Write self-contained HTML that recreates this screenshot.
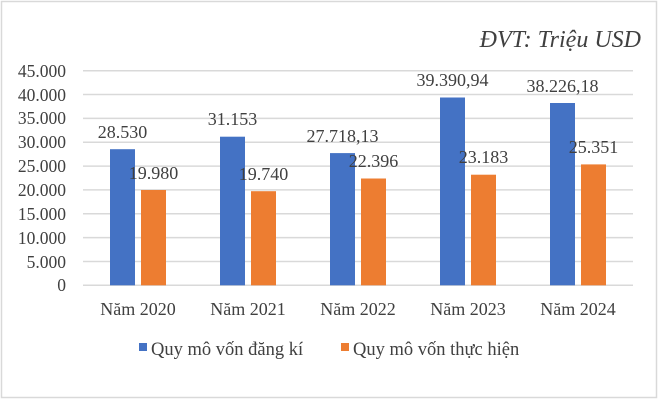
<!DOCTYPE html>
<html><head><meta charset="utf-8"><style>
html,body{margin:0;padding:0;background:#fff}
svg{display:block}
text{font-family:"Liberation Serif",serif;fill:#404040}
</style></head><body>
<svg width="658" height="400" viewBox="0 0 658 400">
<rect x="1.5" y="1.5" width="655" height="396" fill="#fff" stroke="#d9d9d9" stroke-width="1.5"/>
<text x="641" y="47" font-size="24" font-style="italic" text-anchor="end">ĐVT: Triệu USD</text>
<g stroke="#d9d9d9" stroke-width="1.5">
<line x1="83" x2="633" y1="70.7" y2="70.7"/>
<line x1="83" x2="633" y1="94.5" y2="94.5"/>
<line x1="83" x2="633" y1="118.4" y2="118.4"/>
<line x1="83" x2="633" y1="142.2" y2="142.2"/>
<line x1="83" x2="633" y1="166.1" y2="166.1"/>
<line x1="83" x2="633" y1="189.9" y2="189.9"/>
<line x1="83" x2="633" y1="213.8" y2="213.8"/>
<line x1="83" x2="633" y1="237.6" y2="237.6"/>
<line x1="83" x2="633" y1="261.5" y2="261.5"/>
<line x1="83" x2="633" y1="285.3" y2="285.3"/>
</g>
<g font-size="17.5" text-anchor="end">
<text x="66" y="77">45.000</text>
<text x="66" y="101">40.000</text>
<text x="66" y="124">35.000</text>
<text x="66" y="148">30.000</text>
<text x="66" y="172">25.000</text>
<text x="66" y="196">20.000</text>
<text x="66" y="220">15.000</text>
<text x="66" y="244">10.000</text>
<text x="66" y="268">5.000</text>
<text x="66" y="291">0</text>
</g>
<g fill="#4472c4">
<rect x="110" y="149.2" width="25" height="136.1"/>
<rect x="220" y="136.7" width="25" height="148.6"/>
<rect x="330" y="153.1" width="25" height="132.2"/>
<rect x="440" y="97.5" width="25" height="187.8"/>
<rect x="550" y="103" width="25" height="182.3"/>
</g>
<g fill="#ed7d31">
<rect x="141" y="190" width="25" height="95.3"/>
<rect x="251" y="191.2" width="25" height="94.1"/>
<rect x="361" y="178.5" width="25" height="106.8"/>
<rect x="471" y="174.7" width="25" height="110.6"/>
<rect x="581" y="164.4" width="25" height="120.9"/>
</g>
<g font-size="18" text-anchor="middle">
<text x="122.5" y="138">28.530</text>
<text x="153.5" y="179">19.980</text>
<text x="232.5" y="125">31.153</text>
<text x="263.5" y="180">19.740</text>
<text x="342.5" y="142">27.718,13</text>
<text x="373.5" y="167">22.396</text>
<text x="452.5" y="86">39.390,94</text>
<text x="483.5" y="163">23.183</text>
<text x="562.5" y="92">38.226,18</text>
<text x="593.5" y="153">25.351</text>
</g>
<g font-size="18" text-anchor="middle">
<text x="138" y="315">Năm 2020</text>
<text x="248" y="315">Năm 2021</text>
<text x="358" y="315">Năm 2022</text>
<text x="468" y="315">Năm 2023</text>
<text x="578" y="315">Năm 2024</text>
</g>
<rect x="139" y="343" width="8" height="8" fill="#4472c4"/>
<text x="151" y="355" font-size="18.5">Quy mô vốn đăng kí</text>
<rect x="341" y="343" width="8" height="8" fill="#ed7d31"/>
<text x="353" y="355" font-size="18.5">Quy mô vốn thực hiện</text>
</svg>
</body></html>
